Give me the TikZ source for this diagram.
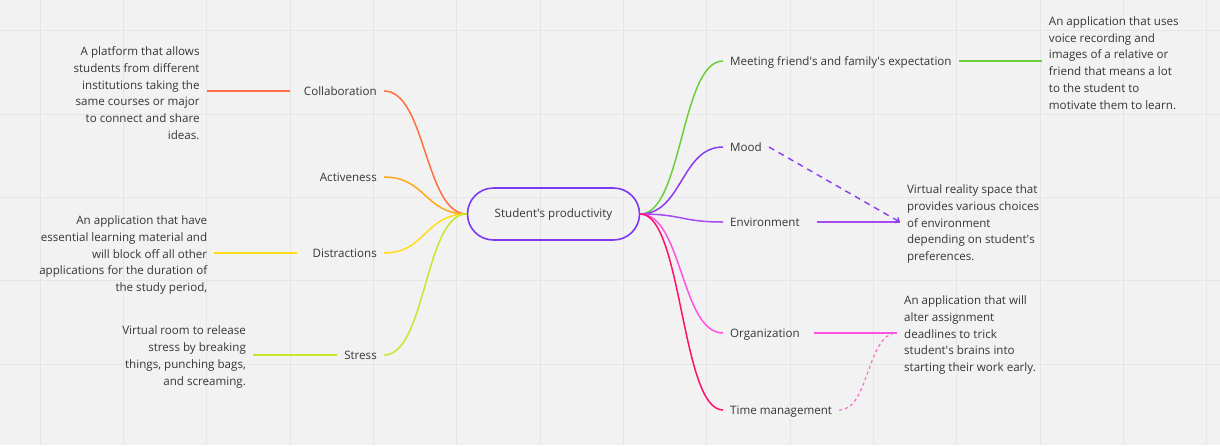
\documentclass[tikz,border=0pt]{standalone}
\usepackage{fontspec}
\setmainfont{Open Sans}
\usepackage{xcolor}
\usetikzlibrary{arrows.meta, positioning}

\definecolor{bg}{HTML}{F2F2F2}
\definecolor{gridc}{HTML}{E6E6E6}
\definecolor{txt}{HTML}{363636}
\definecolor{hubc}{HTML}{7B3AF2}
\definecolor{collc}{HTML}{FF6F42}
\definecolor{actc}{HTML}{FFA81A}
\definecolor{distc}{HTML}{FFDC1A}
\definecolor{strc}{HTML}{C8E62E}
\definecolor{meetc}{HTML}{6ACF3A}
\definecolor{moodc}{HTML}{8A3CF5}
\definecolor{envc}{HTML}{A64BF4}
\definecolor{orgc}{HTML}{FF52E2}
\definecolor{timec}{HTML}{FF0F6E}
\definecolor{timed}{HTML}{FF6AC8}

\begin{document}
\begin{tikzpicture}[
  x=1pt, y=-1pt,
  font=\fontsize{11.6}{16.7}\selectfont, text=txt,
  hub/.style={rectangle, draw=hubc, line width=1.6pt, rounded corners=26pt,
              minimum width=172pt, minimum height=52pt},
  topic/.style={inner sep=0pt, inner xsep=7pt, text height=10pt, text depth=1pt},
  lnote/.style={align=right, inner sep=0pt, inner xsep=7pt, yshift=-2pt},
  rnote/.style={align=left, inner sep=0pt, inner xsep=7pt, yshift=-2pt},
  branch/.style={line width=1.5pt},
  >=Stealth
]
\useasboundingbox (0,0) rectangle (1220,445);
\fill[bg] (0,0) rectangle (1220,445);
\foreach \gx in {0,...,14}
  \draw[gridc, line width=0.8pt] ({40+83.33*\gx},0) -- ({40+83.33*\gx},445);
\foreach \gy in {0,...,4}
  \draw[gridc, line width=0.8pt] (0,{30.67+83.33*\gy}) -- (1220,{30.67+83.33*\gy});

\node[hub] (prod) at (553.5,214) {Student\textquotesingle s productivity};

% left side
\node[topic, anchor=east] (collab) at (384,91) {Collaboration};
\node[topic, anchor=east] (active) at (384,177) {Activeness};
\node[topic, anchor=east] (distract) at (384,253) {Distractions};
\node[topic, anchor=east] (stress) at (384,355) {Stress};
\node[lnote, left=90pt of collab] (collabnote) {A platform that allows\\students from different\\institutions taking the\\same courses or major\\to connect and share\\ideas.};
\node[lnote, left=91pt of distract] (distractnote) {An application that have\\essential learning material and\\will block off all other\\applications for the duration of\\the study period,};
\node[lnote, left=84pt of stress] (stressnote) {Virtual room to release\\stress by breaking\\things, punching bags,\\and screaming.};

% right side
\node[topic, anchor=west] (meet) at (723,61) {Meeting friend\textquotesingle s and family\textquotesingle s expectation};
\node[topic, anchor=west] (mood) at (723,147) {Mood};
\node[topic, anchor=west] (env) at (723,222) {Environment};
\node[topic, anchor=west] (org) at (723,333) {Organization};
\node[topic, anchor=west] (timem) at (723,410) {Time management};
\node[rnote, right=83pt of meet] (meetnote) {An application that uses\\voice recording and\\images of a relative or\\friend that means a lot\\to the student to\\motivate them to learn.};
\node[rnote, right=93pt of env] (envnote) {Virtual reality space that\\provides various choices\\of environment\\depending on student\textquotesingle s\\preferences.};
\node[rnote, right=90pt of org] (orgnote) {An application that will\\alter assignment\\deadlines to trick\\student\textquotesingle s brains into\\starting their work early.};

\draw[branch, collc] (prod.west) .. controls +(-42,0) and +(42,0) .. (collab.east);
\draw[branch, actc] (prod.west) .. controls +(-42,0) and +(42,0) .. (active.east);
\draw[branch, distc] (prod.west) .. controls +(-42,0) and +(42,0) .. (distract.east);
\draw[branch, strc] (prod.west) .. controls +(-42,0) and +(42,0) .. (stress.east);
\draw[branch, meetc] (prod.east) .. controls +(42,0) and +(-42,0) .. (meet.west);
\draw[branch, moodc] (prod.east) .. controls +(42,0) and +(-42,0) .. (mood.west);
\draw[branch, envc] (prod.east) .. controls +(42,0) and +(-42,0) .. (env.west);
\draw[branch, orgc] (prod.east) .. controls +(42,0) and +(-42,0) .. (org.west);
\draw[branch, timec] (prod.east) .. controls +(42,0) and +(-42,0) .. (timem.west);

\draw[branch, collc, shorten <=7pt] (collab.west) -- (collab.west -| collabnote.east);
\draw[branch, distc, shorten <=8pt] (distract.west) -- (distract.west -| distractnote.east);
\draw[branch, strc] (stress.west) -- (stress.west -| stressnote.east);
\draw[branch, meetc] (meet.east) -- (meet.east -| meetnote.west);
\draw[branch, envc, shorten <=10pt] (env.east) -- (env.east -| envnote.west);
\draw[branch, orgc, shorten <=7pt] (org.east) -- (org.east -| orgnote.west);

\draw[moodc, line width=1.4pt, dash pattern=on 6pt off 5pt, -{Straight Barb[length=3pt]}] (mood.east) -- (env.east -| envnote.west);
\draw[timed, line width=1.2pt, dash pattern=on 3pt off 3pt] (timem.east) .. controls +(30,0) and +(-30,0) .. (org.east -| orgnote.west);
\end{tikzpicture}
\end{document}
